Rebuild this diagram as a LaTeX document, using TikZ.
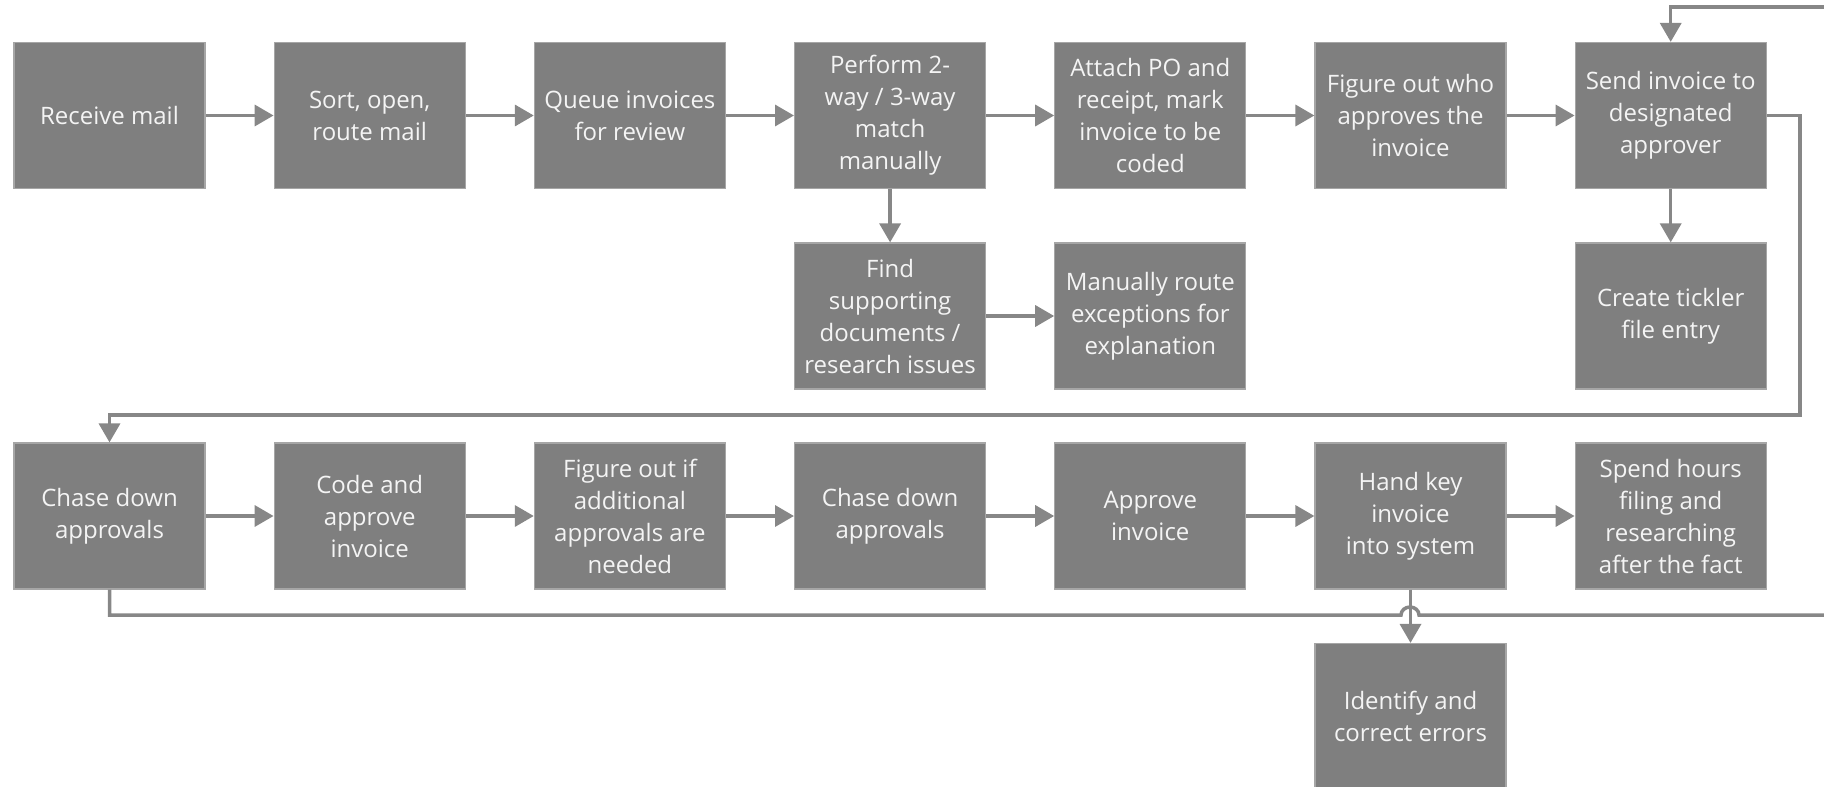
\documentclass[tikz,border=0pt]{standalone}
\usepackage{fontspec}
\setmainfont{Open Sans}
\usetikzlibrary{arrows.meta}
\definecolor{boxfill}{HTML}{7F7F7F}
\definecolor{boxedge}{HTML}{A6A6A6}
\definecolor{boxtext}{HTML}{F4F4F4}
\definecolor{linegray}{HTML}{878787}
\definecolor{titlegray}{HTML}{404040}
\begin{document}
\begin{tikzpicture}[x=1pt,y=-1pt,
  stepbox/.style={rectangle, fill=boxfill, draw=boxedge, line width=1.2pt,
    minimum width=191pt, minimum height=146pt, inner sep=0pt, align=center,
    text=boxtext, font=\fontsize{24}{32}\selectfont},
  flow/.style={draw=linegray, line width=3.5pt, -{Triangle[length=19pt,width=21pt]}},
  plain/.style={draw=linegray, line width=3.5pt}]
\useasboundingbox (0,0) rectangle (1824,787);
\clip (0,0) rectangle (1824,787);

% fragment of a title cut off at the top edge
\node[anchor=base, text=titlegray, font=\fontsize{48}{48}\selectfont, inner sep=0pt] (titleg) at (350,-12) {g};

% row 1
\node[stepbox] (r1c1) at (109.5,115.5) {Receive mail};
\node[stepbox] (r1c2) at (369.7,115.5) {Sort, open,\\route mail};
\node[stepbox] (r1c3) at (629.9,115.5) {Queue invoices\\for review};
\node[stepbox] (r1c4) at (890.1,115.5) {Perform 2-\\way / 3-way\\match\\manually};
\node[stepbox] (r1c5) at (1150.3,115.5) {Attach PO and\\receipt, mark\\invoice to be\\coded};
\node[stepbox] (r1c6) at (1410.5,115.5) {Figure out who\\approves the\\invoice};
\node[stepbox] (r1c7) at (1670.7,115.5) {Send invoice to\\designated\\approver};

% row 2
\node[stepbox] (r2c4) at (890.1,316) {Find\\supporting\\documents /\\research issues};
\node[stepbox] (r2c5) at (1150.3,316) {Manually route\\exceptions for\\explanation};
\node[stepbox] (r2c7) at (1670.7,316) {Create tickler\\file entry};

% row 3
\node[stepbox] (r3c1) at (109.5,516) {Chase down\\approvals};
\node[stepbox] (r3c2) at (369.7,516) {Code and\\approve\\invoice};
\node[stepbox] (r3c3) at (629.9,516) {Figure out if\\additional\\approvals are\\needed};
\node[stepbox] (r3c4) at (890.1,516) {Chase down\\approvals};
\node[stepbox] (r3c5) at (1150.3,516) {Approve\\invoice};
\node[stepbox] (r3c6) at (1410.5,516) {Hand key\\invoice\\into system};
\node[stepbox] (r3c7) at (1670.7,516) {Spend hours\\filing and\\researching\\after the fact};

% row 4
\node[stepbox] (r4c6) at (1410.5,716.5) {Identify and\\correct errors};

% row 1 connectors
\draw[flow] (r1c1) -- (r1c2);
\draw[flow] (r1c2) -- (r1c3);
\draw[flow] (r1c3) -- (r1c4);
\draw[flow] (r1c4) -- (r1c5);
\draw[flow] (r1c5) -- (r1c6);
\draw[flow] (r1c6) -- (r1c7);

% branches
\draw[flow] (r1c4) -- (r2c4);
\draw[flow] (r2c4) -- (r2c5);
\draw[flow] (r1c7) -- (r2c7);

% incoming loop at the top right
\coordinate (topin) at (1830,7);
\draw[flow] (topin) -| (r1c7);

% loop from send invoice to chase down approvals
\coordinate (loopR) at (1800,415);
\draw[flow] (r1c7.east) -| (loopR) -| (r3c1.north);

% row 3 connectors
\draw[flow] (r3c1) -- (r3c2);
\draw[flow] (r3c2) -- (r3c3);
\draw[flow] (r3c3) -- (r3c4);
\draw[flow] (r3c4) -- (r3c5);
\draw[flow] (r3c5) -- (r3c6);
\draw[flow] (r3c6) -- (r3c7);

% bottom loop leaving to the right, with a line jump
\coordinate (hopL) at (1401,615);
\coordinate (botout) at (1830,615);
\draw[plain] (r3c1.south) |- (hopL)
  arc[start angle=180, end angle=360, x radius=9, y radius=8] -- (botout);

\draw[flow] (r3c6) -- (r4c6);
\end{tikzpicture}
\end{document}
